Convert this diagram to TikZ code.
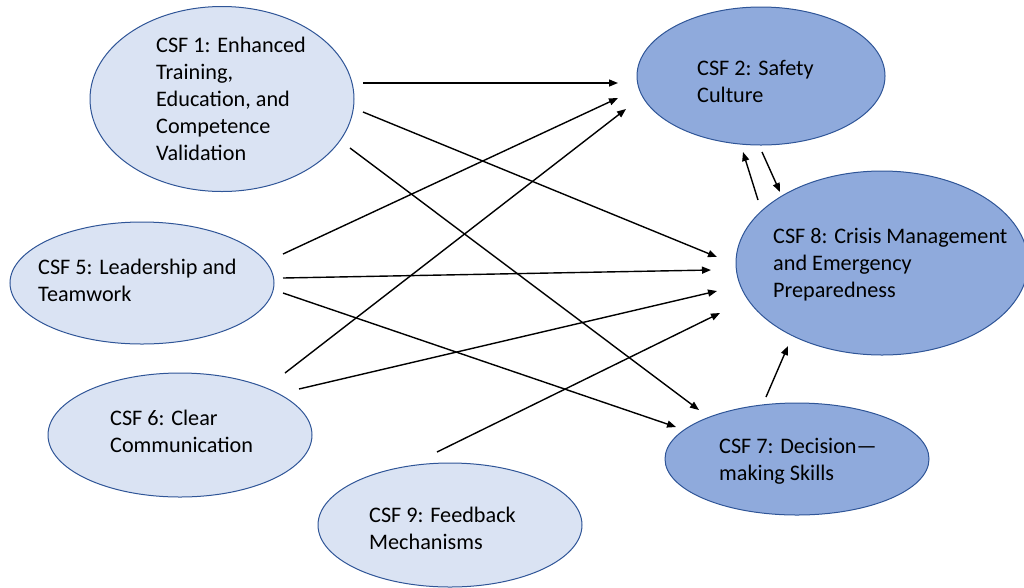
\documentclass[tikz,border=0pt]{standalone}
\usepackage{fontspec}
\setmainfont{Carlito}
\usetikzlibrary{shapes.geometric,arrows.meta,calc}
\definecolor{lightfill}{HTML}{DAE3F3}
\definecolor{darkfill}{HTML}{8FAADC}
\definecolor{rim}{HTML}{2F5597}
\tikzset{
  csf/.style={ellipse, draw=rim, line width=1pt, inner sep=0pt},
  csflight/.style={csf, fill=lightfill},
  csfdark/.style={csf, fill=darkfill},
  txt/.style={anchor=west, align=left, inner sep=0pt,
    font=\fontsize{22.2}{27}\selectfont},
  link/.style={draw=black, line width=1.4pt, -{Triangle[length=9pt,width=7pt]}}
}
\begin{document}
\begin{tikzpicture}[x=1pt,y=-1pt]
\useasboundingbox (0,0) rectangle (1024,587);
\clip (0,0) rectangle (1024,587);

% factor ellipses
\node[csflight, minimum width=264, minimum height=185] (e1) at (222,99) {};
\node[csfdark,  minimum width=248, minimum height=138] (e2) at (761,76) {};
\node[csfdark,  minimum width=292, minimum height=184] (e8) at (882,263) {};
\node[csflight, minimum width=264, minimum height=122] (e5) at (142,283) {};
\node[csflight, minimum width=264, minimum height=124] (e6) at (180,435) {};
\node[csfdark,  minimum width=264, minimum height=112] (e7) at (797,459) {};
\node[csflight, minimum width=264, minimum height=124] (e9) at (450,525) {};

% labels
\node[txt] (t1) at (156,99) {CSF 1: Enhanced\\Training,\\Education, and\\Competence\\Validation};
\node[txt] (t2) at (697,81) {CSF 2: Safety\\Culture};
\node[txt] (t8) at (773,265) {CSF 8: Crisis Management\\and Emergency\\Preparedness};
\node[txt] (t5) at (38,280) {CSF 5: Leadership and\\Teamwork};
\node[txt] (t6) at (110,431) {CSF 6: Clear\\Communication};
\node[txt] (t7) at (719,461) {CSF 7: Decision—\\making Skills};
\node[txt] (t9) at (369,528) {CSF 9: Feedback\\Mechanisms};

% influence arrows
\draw[link] ($(e1)+(141,-16)$) -- ($(e2)+(-143,7)$);
\draw[link] ($(e1)+(141,13)$)  -- ($(e8)+(-165,-6)$);
\draw[link] ($(e1)+(128,49)$)  -- ($(e7)+(-98,-49)$);
\draw[link] ($(e5)+(141,-29)$) -- ($(e2)+(-143,22)$);
\draw[link] ($(e5)+(141,-5)$)  -- ($(e8)+(-171,7)$);
\draw[link] ($(e5)+(141,10)$)  -- ($(e7)+(-121,-32)$);
\draw[link] ($(e6)+(105,-62)$) -- ($(e2)+(-135,33)$);
\draw[link] ($(e6)+(119,-46)$) -- ($(e8)+(-165,28)$);
\draw[link] ($(e9)+(-13,-73)$) -- ($(e8)+(-162,50)$);
\draw[link] ($(e7)+(-31,-62)$) -- ($(e8)+(-94,83)$);
\draw[link] ($(e8)+(-124,-63)$) -- ($(e2)+(-18,76)$);
\draw[link] ($(e2)+(1,76)$)    -- ($(e8)+(-102,-71)$);
\end{tikzpicture}
\end{document}
